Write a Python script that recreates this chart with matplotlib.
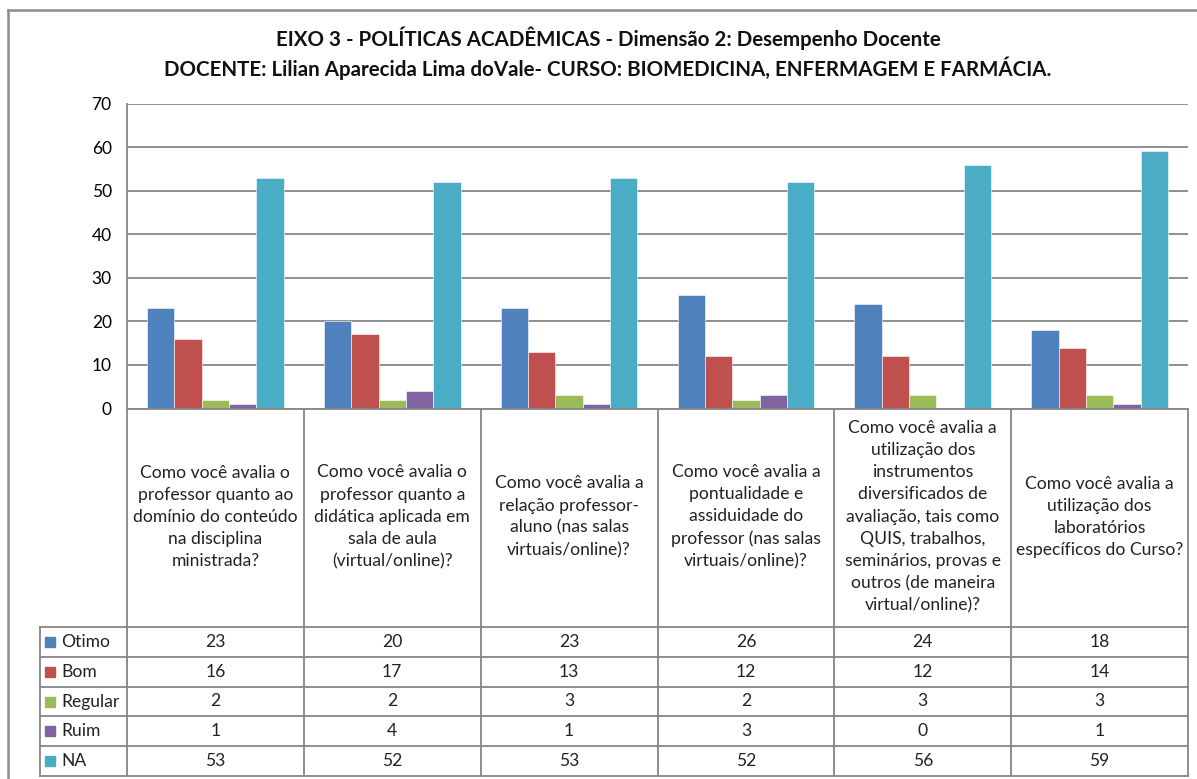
import numpy as np
import matplotlib
matplotlib.use('Agg')
import matplotlib.pyplot as plt
from matplotlib.lines import Line2D
from matplotlib.patches import Rectangle

plt.rcParams['font.family'] = ['Lato', 'DejaVu Sans']

# Chart data
categories = [
    'Como você avalia o\nprofessor quanto ao\ndomínio do conteúdo\nna disciplina\nministrada?',
    'Como você avalia o\nprofessor quanto a\ndidática aplicada em\nsala de aula\n(virtual/online)?',
    'Como você avalia a\nrelação professor-\naluno (nas salas\nvirtuais/online)?',
    'Como você avalia a\npontualidade e\nassiduidade do\nprofessor (nas salas\nvirtuais/online)?',
    'Como você avalia a\nutilização dos\ninstrumentos\ndiversificados de\navaliação, tais como\nQUIS, trabalhos,\nseminários, provas e\noutros (de maneira\nvirtual/online)?',
    'Como você avalia a\nutilização dos\nlaboratórios\nespecíficos do Curso?',
]
series_names = ['Otimo', 'Bom', 'Regular', 'Ruim', 'NA']
otimo = [23, 20, 23, 26, 24, 18]
bom = [16, 17, 13, 12, 12, 14]
regular = [2, 2, 3, 2, 3, 3]
ruim = [1, 4, 1, 3, 0, 1]
na = [53, 52, 53, 52, 56, 59]
series_values = [otimo, bom, regular, ruim, na]
colors = ['#4F81BD', '#C0504D', '#9BBB59', '#8064A2', '#4BACC6']
yticks = [0, 10, 20, 30, 40, 50, 60, 70]

title = ('EIXO 3 - POLÍTICAS ACADÊMICAS - Dimensão 2: Desempenho Docente\n'
         'DOCENTE: Lilian Aparecida Lima doVale- CURSO: BIOMEDICINA, ENFERMAGEM E FARMÁCIA.')

W, H = 1197, 779
grid_col = '#868686'


def fx(x):
    return x / W


def fy(y):
    return 1 - y / H


fig = plt.figure(figsize=(W / 100, H / 100), dpi=100)

# plot area (pixel layout)
left, right, top, bottom = 127, 1188, 103.5, 408.5
ax = fig.add_axes([fx(left), fy(bottom), fx(right) - fx(left), fy(top) - fy(bottom)])

n_cat = len(categories)
x = np.arange(n_cat)
bar_w = 0.1545
for i, (vals, col) in enumerate(zip(series_values, colors)):
    offs = (i - 2) * bar_w
    ax.bar(x + offs, vals, width=bar_w, color=col, edgecolor='white', linewidth=0.4, zorder=3)

ax.set_xlim(-0.5, n_cat - 0.5)
ax.set_ylim(0, 70)
ax.set_yticks(yticks)
ax.set_yticklabels([str(t) for t in yticks], fontsize=12.5)
ax.tick_params(axis='y', length=0, pad=11)
ax.set_xticks([])
ax.grid(axis='y', color=grid_col, linewidth=1.3, zorder=0)
for s in ['top', 'right', 'bottom']:
    ax.spines[s].set_visible(False)
ax.spines['left'].set_color(grid_col)
ax.spines['left'].set_linewidth(1.3)


def fline(x0, y0, x1, y1, color=grid_col, lw=1.3):
    fig.add_artist(Line2D([fx(x0), fx(x1)], [fy(y0), fy(y1)], color=color, lw=lw,
                          transform=fig.transFigure))


# data table
col_w = (right - left) / n_cat
row_top = 627
row_h = 29.8
n_rows = len(series_names)
tab_bottom = row_top + n_rows * row_h
leg_left = 40

fline(left, bottom, right, bottom)
for k in range(n_cat + 1):
    xc = left + k * col_w
    fline(xc, bottom, xc, tab_bottom)
for r in range(n_rows + 1):
    yr = row_top + r * row_h
    fline(leg_left, yr, right, yr)
fline(leg_left, row_top, leg_left, tab_bottom)

# category header texts
for k, cat in enumerate(categories):
    fig.text(fx(left + (k + 0.5) * col_w), fy((bottom + row_top) / 2 - 1), cat,
             ha='center', va='center', fontsize=12.6, linespacing=1.47, color='#222222')

# value rows
for r, (name, vals, col) in enumerate(zip(series_names, series_values, colors)):
    yc = row_top + (r + 0.5) * row_h
    fig.add_artist(Rectangle((fx(45), fy(yc + 5)), fx(10), 10 / H, color=col,
                             transform=fig.transFigure))
    fig.text(fx(61), fy(yc), name, ha='left', va='center', fontsize=12.6, color='#222222')
    for k, v in enumerate(vals):
        fig.text(fx(left + (k + 0.5) * col_w), fy(yc), str(v), ha='center', va='center',
                 fontsize=12.6, color='#222222')

# title
fig.text(fx(608), fy(53), title, ha='center', va='center', fontsize=14.8, fontweight='bold',
         linespacing=1.35, color='#111111')

# chart frame
fline(8, 10, W, 10, color='#8c8c8c', lw=1.8)
fline(8, 10, 8, H, color='#8c8c8c', lw=1.8)

fig.savefig('out.png', dpi=100)
